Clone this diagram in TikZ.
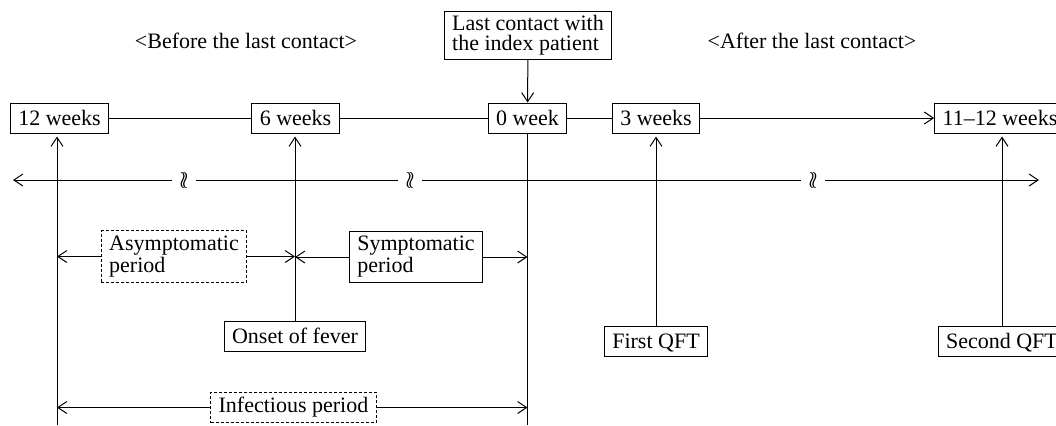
\documentclass[tikz,border=0pt]{standalone}
\usepackage{fontspec}
\setmainfont{Liberation Serif}
\usetikzlibrary{arrows.meta}

\begin{document}
\begin{tikzpicture}[x=0.5pt, y=-0.5pt, line width=0.5pt, font=\fontsize{11}{11}\selectfont,
    >={Straight Barb[length=4.5pt,width=6pt]},
    wbox/.style={draw, inner xsep=4pt, inner ysep=2pt, text height=9pt, text depth=2pt},
    pbox/.style={draw, align=left, inner xsep=4pt, inner ysep=2.5pt},
    dbox/.style={pbox, dash pattern=on 1.5pt off 1pt},
    brk/.style={fill=white, inner xsep=3.5pt, inner ysep=1pt, font=\large}]
      \useasboundingbox (0,0) rectangle (1056,425);
      \node[anchor=base] (before) at (246,48) {<Before the last contact>};
      \node[anchor=base] (after) at (812,48) {<After the last contact>};
      \node[pbox, font=\fontsize{11}{10}\selectfont, inner ysep=2pt] (lc) at (528,35.5) {Last contact with\\the index patient};
      \node[wbox] (w12) at (59.5,118) {12 weeks};
      \node[wbox] (w6) at (295.5,118) {6 weeks};
      \node[wbox] (w0) at (527.5,118) {0 week};
      \node[wbox] (w3) at (656,118) {3 weeks};
      \node[wbox] (w11) at (1000,118) {11--12 weeks};
      \draw (w12) -- (w6) -- (w0) -- (w3) ;
      \draw[->] (w3) -- (w11) ;
      \draw[->] (lc) -- (w0) ;
      \coordinate (la) at (13,180) ;
      \coordinate (ra) at (1039,180) ;
      \foreach \bx/\bn in {184/k1, 410/k2, 813/k3}
      \node[brk] (\bn) at (\bx,180) {$\wr\!\wr$} ;
      \draw[->] (k1) -- (la) ;
      \draw (k1) -- (k2) -- (k3) ;
      \draw[->] (k3) -- (ra) ;
      \node[wbox] (onset) at (295,336.5) {Onset of fever};
      \node[wbox] (fq) at (656,341.5) {First QFT};
      \node[wbox] (sq) at (1002,341.5) {Second QFT};
      \coordinate (b12) at (57,425) ;
      \coordinate (b0) at (527.5,425) ;
      \draw[->, shorten >=1.5pt] (b12) -- (b12 |- w12.south) ;
      \draw[->, shorten >=1.5pt] (onset.north) -- (onset.north |- w6.south) ;
      \draw[->, shorten >=1.5pt] (fq.north) -- (fq.north |- w3.south) ;
      \draw[->, shorten >=1.5pt] (sq.north) -- (sq.north |- w11.south) ;
      \draw (w0.south) -- (b0) ;
      \node[dbox] (asym) at (174,256.5) {Asymptomatic\\period};
      \node[pbox] (symp) at (416,257) {Symptomatic\\period};
      \node[dbox] (inf) at (293.5,407.5) {Infectious period};
      \draw[->] (asym.west) -- (asym.west -| b12) ;
      \draw[->] (asym.east) -- (asym.east -| onset) ;
      \draw[->] (symp.west) -- (symp.west -| onset) ;
      \draw[->] (symp.east) -- (symp.east -| b0) ;
      \draw[->] (inf.west) -- (inf.west -| b12) ;
      \draw[->] (inf.east) -- (inf.east -| b0) ;
\end{tikzpicture}
\end{document}
